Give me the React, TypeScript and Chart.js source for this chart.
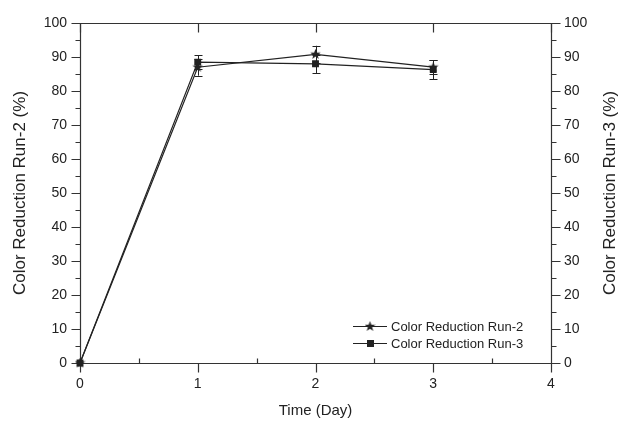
import React, { useEffect, useRef } from "react";
import { Chart, registerables } from "chart.js";

Chart.register(...registerables);

const days = [0, 1, 2, 3];
const run2 = [0, 87, 90.8, 87];
const run2Err = [0, 2.5, 2.5, 2];
const run3 = [0, 88.5, 88, 86.3];
const run3Err = [0, 2, 2.7, 2.8];
const yTicks = [0, 10, 20, 30, 40, 50, 60, 70, 80, 90, 100];
const xTicks = [0, 1, 2, 3, 4];
const labels = ["Color Reduction Run-2", "Color Reduction Run-3"];

const FONT = "'Liberation Sans', Arial, sans-serif";
const INK = "#222";

function makeStar(): HTMLCanvasElement {
  const c = document.createElement("canvas");
  c.width = 11;
  c.height = 11;
  const g = c.getContext("2d")!;
  g.fillStyle = INK;
  g.beginPath();
  for (let i = 0; i < 10; i++) {
    const r = i % 2 === 0 ? 5.5 : 2.3;
    const a = -Math.PI / 2 + (i * Math.PI) / 5;
    const px = 5.5 + r * Math.cos(a);
    const py = 5.5 + r * Math.sin(a);
    if (i === 0) g.moveTo(px, py);
    else g.lineTo(px, py);
  }
  g.closePath();
  g.fill();
  return c;
}

export default function App() {
  const ref = useRef<HTMLCanvasElement>(null);
  useEffect(() => {
    document.body.style.margin = "0";
    const star = makeStar();
    const errs = [run2Err, run3Err];

    const errorBars = {
      id: "errorBars",
      afterDatasetsDraw(chart: any) {
        const ctx = chart.ctx;
        const xs = chart.scales.x;
        const ys = chart.scales.y;
        ctx.save();
        ctx.strokeStyle = INK;
        ctx.lineWidth = 1;
        chart.data.datasets.forEach((ds: any, di: number) => {
          ds.data.forEach((p: any, i: number) => {
            const e = errs[di][i];
            if (!e) return;
            const x = Math.round(xs.getPixelForValue(p.x)) + 0.5;
            const yt = ys.getPixelForValue(p.y + e);
            const yb = ys.getPixelForValue(p.y - e);
            ctx.beginPath();
            ctx.moveTo(x, yt);
            ctx.lineTo(x, yb);
            ctx.moveTo(x - 4, Math.round(yt) + 0.5);
            ctx.lineTo(x + 4, Math.round(yt) + 0.5);
            ctx.moveTo(x - 4, Math.round(yb) + 0.5);
            ctx.lineTo(x + 4, Math.round(yb) + 0.5);
            ctx.stroke();
          });
        });
        ctx.restore();
      },
    };

    const frame = {
      id: "frame",
      beforeDatasetsDraw(chart: any) {
        const ctx = chart.ctx;
        const a = chart.chartArea;
        const xs = chart.scales.x;
        const ys = chart.scales.y;
        const L = Math.round(a.left) + 0.5;
        const R = Math.round(a.right) + 0.5;
        const T = Math.round(a.top) + 0.5;
        const B = Math.round(a.bottom) + 0.5;
        ctx.save();
        ctx.strokeStyle = "#333";
        ctx.lineWidth = 1.2;
        ctx.beginPath();
        ctx.rect(L, T, R - L, B - T);
        ctx.stroke();
        ctx.beginPath();
        for (let v = 0; v <= 100; v += 5) {
          const y = Math.round(ys.getPixelForValue(v)) + 0.5;
          const len = v % 10 === 0 ? 9 : 5;
          ctx.moveTo(L, y);
          ctx.lineTo(L - len, y);
          ctx.moveTo(R, y);
          ctx.lineTo(R + len, y);
        }
        for (let v = 0; v <= 4; v += 0.5) {
          const x = Math.round(xs.getPixelForValue(v)) + 0.5;
          if (v % 1 === 0) {
            ctx.moveTo(x, B);
            ctx.lineTo(x, B + 9);
            ctx.moveTo(x, T);
            ctx.lineTo(x, T + 9);
          } else {
            ctx.moveTo(x, B);
            ctx.lineTo(x, B - 5);
          }
        }
        ctx.stroke();
        ctx.restore();
      },
      afterDraw(chart: any) {
        const ctx = chart.ctx;
        const a = chart.chartArea;
        ctx.save();
        ctx.fillStyle = INK;
        ctx.textAlign = "center";
        ctx.textBaseline = "middle";
        ctx.font = `15px ${FONT}`;
        ctx.fillText("Time (Day)", (a.left + a.right) / 2, 411);
        ctx.font = `17px ${FONT}`;
        const cy = (a.top + a.bottom) / 2;
        ctx.save();
        ctx.translate(20, cy);
        ctx.rotate(-Math.PI / 2);
        ctx.fillText("Color Reduction Run-2 (%)", 0, 0);
        ctx.restore();
        ctx.save();
        ctx.translate(610, cy);
        ctx.rotate(-Math.PI / 2);
        ctx.fillText("Color Reduction Run-3 (%)", 0, 0);
        ctx.restore();

        const rows = [326, 343];
        ctx.font = `13px ${FONT}`;
        ctx.textAlign = "left";
        rows.forEach((ry, i) => {
          ctx.strokeStyle = INK;
          ctx.lineWidth = 1;
          ctx.beginPath();
          ctx.moveTo(353, ry + 0.5);
          ctx.lineTo(387, ry + 0.5);
          ctx.stroke();
          if (i === 0) {
            ctx.drawImage(star, 370 - 5.5, ry - 5);
          } else {
            ctx.fillRect(367, ry - 3, 7, 7);
          }
          ctx.fillText(labels[i], 391, ry + 1);
        });
        ctx.restore();
      },
    };

    const chart = new Chart(ref.current!, {
      type: "line",
      data: {
        datasets: [
          {
            label: labels[0],
            data: days.map((d, i) => ({ x: d, y: run2[i] })),
            borderColor: INK,
            backgroundColor: INK,
            borderWidth: 1.2,
            pointStyle: star as any,
            pointRadius: 5,
            clip: false as any,
            yAxisID: "y",
          },
          {
            label: labels[1],
            data: days.map((d, i) => ({ x: d, y: run3[i] })),
            borderColor: INK,
            backgroundColor: INK,
            borderWidth: 1.2,
            pointStyle: "rect",
            pointRadius: 4,
            clip: false as any,
            yAxisID: "y",
          },
        ],
      },
      options: {
        animation: false,
        responsive: false,
        layout: { padding: { top: 23, left: 0, right: 0, bottom: 0 }, autoPadding: false } as any,
        plugins: { legend: { display: false }, tooltip: { enabled: false } },
        scales: {
          x: {
            type: "linear",
            min: 0,
            max: 4,
            afterFit: (s: any) => { s.height = 60; },
            afterBuildTicks: (s: any) => { s.ticks = xTicks.map((v) => ({ value: v })); },
            grid: { display: false, drawTicks: false },
            border: { display: false },
            ticks: { padding: 13, color: INK, font: { size: 14, family: FONT } },
          },
          y: {
            type: "linear",
            position: "left",
            min: 0,
            max: 100,
            afterFit: (s: any) => { s.width = 80; },
            afterBuildTicks: (s: any) => { s.ticks = yTicks.map((v) => ({ value: v })); },
            grid: { display: false, drawTicks: false },
            border: { display: false },
            ticks: { padding: 13, color: INK, font: { size: 14, family: FONT } },
          },
          y2: {
            type: "linear",
            position: "right",
            min: 0,
            max: 100,
            afterFit: (s: any) => { s.width = 76; },
            afterBuildTicks: (s: any) => { s.ticks = yTicks.map((v) => ({ value: v })); },
            grid: { display: false, drawTicks: false },
            border: { display: false },
            ticks: { padding: 13, color: INK, font: { size: 14, family: FONT } },
          },
        },
      },
      plugins: [errorBars, frame],
    });
    return () => chart.destroy();
  }, []);
  return (
    <div style={{ width: 627, height: 423 }}>
      <canvas ref={ref} width={627} height={423} />
    </div>
  );
}
